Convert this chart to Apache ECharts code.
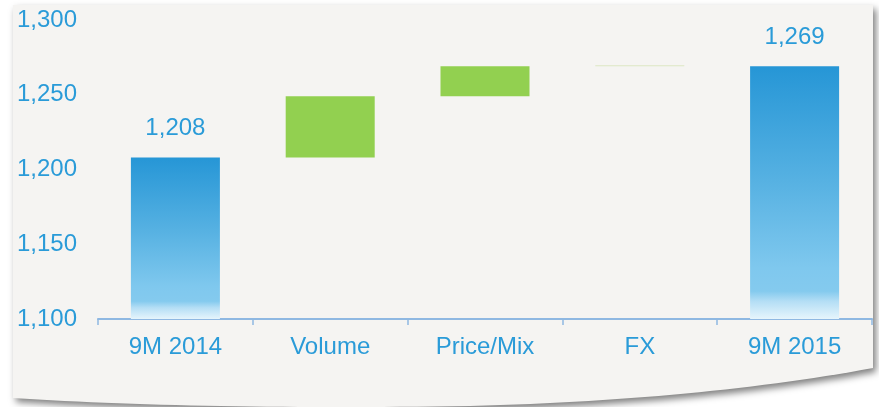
<!DOCTYPE html>
<html>
<head>
<meta charset="utf-8">
<script src="https://cdn.jsdelivr.net/npm/echarts@6/dist/echarts.min.js"></script>
<style>
  html, body { margin: 0; padding: 0; background: #ffffff; }
  #chart { width: 879px; height: 407px; }
</style>
</head>
<body>
<div id="chart"></div>
<script>
// Sales bridge: 9M 2014 -> 9M 2015
const categories = ['9M 2014', 'Volume', 'Price/Mix', 'FX', '9M 2015'];
const startTotal = 1208;
const endTotal = 1269;
const changes = [41, 20, 0];          // Volume, Price/Mix, FX
const yTicks = [1100, 1150, 1200, 1250, 1300];

const textBlue = '#2a9bd8';
const axisBlue = '#8fb8e2';
const green = '#92d050';
const font = 'Liberation Sans, Arial, sans-serif';
const fontSize = 24;

// Blue total-bar fill, fading to near white at the foot
function blueFill() {
  return new echarts.graphic.LinearGradient(0, 0, 0, 1, [
    { offset: 0, color: '#2696d6' },
    { offset: 0.45, color: '#56b1e2' },
    { offset: 0.8, color: '#7fc8ee' },
    { offset: 0.89, color: '#84caee' },
    { offset: 0.93, color: '#b4def5' },
    { offset: 1, color: '#e6f5fc' }
  ]);
}

// Invisible bases and visible steps of the waterfall
const bases = [0];
const steps = [startTotal];
let running = startTotal;
changes.forEach(c => { bases.push(running); steps.push(c); running += c; });
bases.push(0);
steps.push(endTotal);

const fmt = v => Number(v).toLocaleString('en-US');

const stepData = steps.map((v, i) => {
  const isTotal = i === 0 || i === steps.length - 1;
  if (isTotal) {
    return {
      value: v,
      itemStyle: { color: blueFill() },
      label: { show: true, position: 'top', distance: 17, color: textBlue,
               fontSize: fontSize, fontFamily: font,
               formatter: p => fmt(p.value) }
    };
  }
  if (v === 0) {
    return { value: v, itemStyle: { color: '#dce7c3' } };
  }
  return { value: v, itemStyle: { color: green } };
});

// Outline of the curled backing card
function quad(p0, c, p1, n) {
  const pts = [];
  for (let k = 1; k <= n; k++) {
    const t = k / n, u = 1 - t;
    pts.push([u * u * p0[0] + 2 * u * t * c[0] + t * t * p1[0],
              u * u * p0[1] + 2 * u * t * c[1] + t * t * p1[1]]);
  }
  return pts;
}
const cardPoints = [[13, 5], [873, 5], [873, 368]]
  .concat(quad([873, 368], [700, 400], [470, 406], 30))
  .concat(quad([470, 406], [200, 410], [13, 398], 30));

const chart = echarts.init(document.getElementById('chart'));

chart.setOption({
  animation: false,
  backgroundColor: '#ffffff',
  graphic: [{
    type: 'polygon',
    z: -10,
    silent: true,
    shape: { points: cardPoints },
    style: {
      fill: '#f5f4f2',
      shadowBlur: 7,
      shadowColor: 'rgba(0,0,0,0.5)',
      shadowOffsetX: 3,
      shadowOffsetY: 4
    }
  }],
  grid: { left: 98, right: 7, top: 20, bottom: 88, containLabel: false },
  xAxis: {
    type: 'category',
    data: categories,
    axisLine: { lineStyle: { color: axisBlue, width: 2 } },
    axisTick: { show: true, length: 6, lineStyle: { color: axisBlue, width: 1.5 } },
    axisLabel: { color: textBlue, fontSize: fontSize, margin: 16, fontFamily: font }
  },
  yAxis: {
    type: 'value',
    min: yTicks[0],
    max: yTicks[yTicks.length - 1],
    interval: yTicks[1] - yTicks[0],
    axisLine: { show: false },
    axisTick: { show: false },
    splitLine: { show: false },
    axisLabel: { color: textBlue, fontSize: fontSize, margin: 21, fontFamily: font,
                 padding: [4, 0, 0, 0],
                 formatter: v => fmt(v) }
  },
  series: [
    {
      type: 'bar',
      stack: 'bridge',
      data: bases,
      barWidth: '57.5%',
      itemStyle: { color: 'transparent' },
      silent: true,
      clip: true
    },
    {
      type: 'bar',
      stack: 'bridge',
      data: stepData,
      barWidth: '57.5%',
      barMinHeight: 1,
      clip: true
    }
  ]
});
</script>
</body>
</html>
